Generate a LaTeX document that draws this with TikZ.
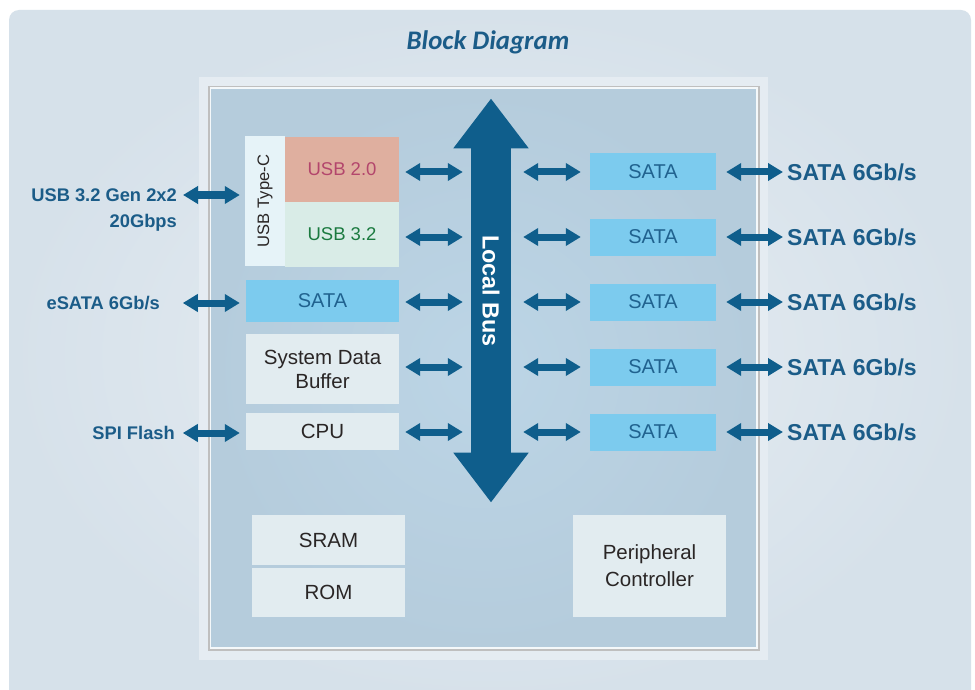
\documentclass[tikz,border=0pt]{standalone}
\usepackage{fontspec}
\setmainfont{Liberation Sans}
\newfontfamily\titlefont{Carlito}
\usetikzlibrary{arrows.meta}
\definecolor{bgc}{HTML}{DEE7EE}
\definecolor{bgin}{HTML}{E8EEF3}
\definecolor{bgout}{HTML}{D6E1EA}
\definecolor{framec}{HTML}{E5ECF2}
\definecolor{panelc}{HTML}{B8D0E1}
\definecolor{panelin}{HTML}{BCD5E6}
\definecolor{panelout}{HTML}{B5CCDC}
\definecolor{arrowblue}{HTML}{0F5E8C}
\definecolor{lblblue}{HTML}{1B5C88}
\definecolor{satac}{HTML}{7CCBEE}
\definecolor{satatxt}{HTML}{20628F}
\definecolor{grayc}{HTML}{E2ECF0}
\definecolor{typecc}{HTML}{E6F3F8}
\definecolor{usbtwoc}{HTML}{DFAF9F}
\definecolor{usbtwotxt}{HTML}{B3466C}
\definecolor{usbthreec}{HTML}{D9ECE7}
\definecolor{usbthreetxt}{HTML}{1B7A40}
\definecolor{txtdark}{HTML}{2A2626}
\begin{document}
\begin{tikzpicture}[x=1pt,y=-1pt,
  dbl/.style={draw=arrowblue, line width=7pt,
    {Triangle[length=15pt,width=17pt]}-{Triangle[length=15pt,width=17pt]}},
  graybox/.style={fill=grayc, minimum width=153pt, inner sep=0pt, text=txtdark,
    font=\fontsize{20.5}{25}\selectfont, align=center},
  satabox/.style={fill=satac, minimum height=37pt, inner sep=0pt, text=satatxt,
    font=\fontsize{20}{24}\selectfont},
  rlabel/.style={anchor=west, inner sep=0pt, text=lblblue,
    font=\bfseries\fontsize{23}{27}\selectfont},
  llabel/.style={anchor=east, inner sep=0pt, text=lblblue,
    font=\bfseries\fontsize{18.3}{22}\selectfont}]
\useasboundingbox (0,0) rectangle (975,690);
% background
\fill[white] (0,0) rectangle (975,690);
\shade[inner color=bgin, outer color=bgout, rounded corners=10pt] (9,10) rectangle (971,700);
% title
\node[text=lblblue, font=\titlefont\bfseries\itshape\fontsize{26.8}{30}\selectfont] (title) at (488,42) {Block Diagram};
% frame and panel
\fill[framec] (199,77) rectangle (768,660);
\fill[black!25] (208,86) rectangle (760,651);
\shade[inner color=panelin, outer color=panelout, draw=white!85!panelc, line width=1.5pt] (210.5,88) rectangle (757,648);
% local bus
\node[fill=arrowblue, minimum width=40pt, minimum height=305pt, inner sep=0pt] (bus) at (491,300.5) {};
\fill[arrowblue] ([xshift=-17.5pt,yshift=-0.5pt]bus.north west) -- ([yshift=49pt]bus.north) -- ([xshift=17.5pt,yshift=-0.5pt]bus.north east) -- cycle;
\fill[arrowblue] ([xshift=-17.5pt,yshift=0.5pt]bus.south west) -- ([yshift=-49pt]bus.south) -- ([xshift=17.5pt,yshift=0.5pt]bus.south east) -- cycle;
\node[rotate=-90, text=white, font=\bfseries\fontsize{23.4}{28}\selectfont] (buslbl) at (491,291) {Local Bus};
% left blocks
\node[fill=typecc, minimum width=40pt, minimum height=130pt, inner sep=0pt] (typec) at (265,201) {};
\node[rotate=90, text=txtdark, font=\fontsize{16.6}{20}\selectfont] (typeclbl) at (265,201) {USB Type-C};
\node[fill=usbtwoc, minimum width=114pt, minimum height=65pt, inner sep=0pt, text=usbtwotxt, font=\fontsize{18.5}{22}\selectfont] (usb20) at (342,169.5) {USB 2.0};
\node[fill=usbthreec, minimum width=114pt, minimum height=65pt, inner sep=0pt, text=usbthreetxt, font=\fontsize{18.5}{22}\selectfont] (usb32) at (342,234.5) {USB 3.2};
\node[satabox, minimum width=153pt, minimum height=42pt] (sataL) at (322.5,301) {SATA};
\node[graybox, minimum height=70pt, font=\fontsize{20.5}{24}\selectfont] (sdb) at (322.5,369) {System Data\\Buffer};
\node[graybox, minimum height=37pt] (cpu) at (322.5,431.5) {CPU};
\node[graybox, minimum height=50pt] (sram) at (328.5,540) {SRAM};
\node[graybox, minimum height=49pt] (rom) at (328.5,592.5) {ROM};
\node[graybox, minimum height=102pt, font=\fontsize{20.5}{27}\selectfont] (periph) at (649.5,566) {Peripheral\\Controller};
% right SATA boxes
\foreach \i/\y in {1/172,2/237,3/302,4/367,5/432}{
  \node[satabox, minimum width=126pt] (s\i) at (653,\y) {SATA};
  \node[rlabel] (r\i) at (787,\y) {SATA 6Gb/s};
  \draw[dbl] ([xshift=10pt]s\i.east) -- ([xshift=-4pt]r\i.west);
  \draw[dbl] ([xshift=12pt]bus.east |- s\i.west) -- ([xshift=-9pt]s\i.west);
}
% left-side internal arrows
\draw[dbl] ([xshift=6pt]usb20.east |- s1.west) -- ([xshift=-8pt]bus.west |- s1.west);
\draw[dbl] ([xshift=6pt]usb32.east |- s2.west) -- ([xshift=-8pt]bus.west |- s2.west);
\draw[dbl] ([xshift=6pt]sataL.east |- s3.west) -- ([xshift=-8pt]bus.west |- s3.west);
\draw[dbl] ([xshift=6pt]sdb.east |- s4.west) -- ([xshift=-8pt]bus.west |- s4.west);
\draw[dbl] ([xshift=6pt]cpu.east |- s5.west) -- ([xshift=-8pt]bus.west |- s5.west);
% external left labels
\node[llabel] (usbext) at (177,195) {USB 3.2 Gen 2x2};
\node[llabel] (usbrate) at (177,223) {20Gbps};
\node[llabel] (esata) at (160,303) {eSATA 6Gb/s};
\node[llabel] (spi) at (175,433) {SPI Flash};
\draw[dbl] ([xshift=6pt]usbext.east) -- ([xshift=-5pt]usbext.east -| typec.west);
\draw[dbl] ([xshift=-63pt]sataL.west |- esata.east) -- ([xshift=-6pt]sataL.west |- esata.east);
\draw[dbl] ([xshift=-63pt]cpu.west |- spi.east) -- ([xshift=-6pt]cpu.west |- spi.east);
\end{tikzpicture}
\end{document}
